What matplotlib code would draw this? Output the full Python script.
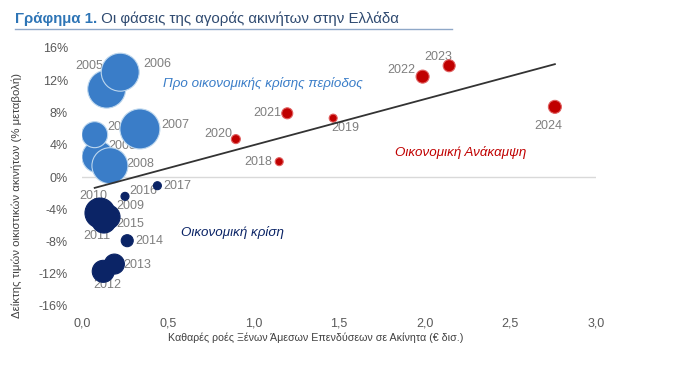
import numpy as np
import matplotlib
matplotlib.use("Agg")
import matplotlib.pyplot as plt
from matplotlib.lines import Line2D
from matplotlib.ticker import FuncFormatter

plt.rcParams['font.family'] = ['Liberation Sans', 'DejaVu Sans']

# ---------------- data ----------------
years_pre = ["2003", "2004", "2005", "2006", "2007", "2008"]
fdi_pre = [0.093, 0.074, 0.144, 0.223, 0.338, 0.163]
price_pre = [2.5, 5.25, 10.9, 13.0, 5.96, 1.4]
size_pre = [16, 13, 19, 19, 20, 18]

years_crisis = ["2009", "2010", "2011", "2015", "2012", "2013", "2014", "2016", "2017"]
fdi_crisis = [0.105, 0.105, 0.128, 0.152, 0.124, 0.189, 0.264, 0.251, 0.44]
price_crisis = [-3.72, -4.47, -5.46, -4.96, -11.7, -10.8, -7.9, -2.4, -1.08]
size_crisis = [8, 15, 12, 12, 11, 10, 6, 4, 4]

years_rec = ["2018", "2019", "2020", "2021", "2022", "2023", "2024"]
fdi_rec = [1.151, 1.466, 0.898, 1.198, 1.988, 2.143, 2.76]
price_rec = [1.9, 7.3, 4.7, 7.9, 12.45, 13.8, 8.7]
size_rec = [4, 4, 4.5, 5.5, 6.5, 6, 6.5]

x_ticks = [0.0, 0.5, 1.0, 1.5, 2.0, 2.5, 3.0]
y_ticks = [-16, -12, -8, -4, 0, 4, 8, 12, 16]

title_bold = "Γράφημα 1."
title_rest = " Οι φάσεις της αγοράς ακινήτων στην Ελλάδα"
x_label = "Καθαρές ροές Ξένων Άμεσων Επενδύσεων σε Ακίνητα (€ δισ.)"
y_label = "Δείκτης τιμών οικιστικών ακινήτων (% μεταβολή)"
txt_pre = "Προ οικονομικής κρίσης περίοδος"
txt_crisis = "Οικονομική κρίση"
txt_rec = "Οικονομική Ανάκαμψη"

# ---------------- style ----------------
BLUE = "#3A7DC8"
NAVY = "#0B2466"
RED = "#C00000"
GRAY = "#7F7F7F"

label_off = {
    "2003": (24, 11), "2004": (27, 8), "2005": (-17, 23), "2006": (37, 8),
    "2007": (35, 4), "2008": (30, 2), "2009": (30, 1), "2010": (-7, 17),
    "2011": (-7, -15), "2012": (4, -14), "2013": (23, -1), "2014": (22, 0),
    "2015": (22, -7), "2016": (18, 5), "2017": (20, 0), "2018": (-21, 0),
    "2019": (12, -10), "2020": (-18, 5), "2021": (-20, 0), "2022": (-21, 7),
    "2023": (-11, 9), "2024": (-7, -19),
}

W, H, DPI = 700, 365, 100
fig = plt.figure(figsize=(W / DPI, H / DPI), dpi=DPI)
ax = fig.add_axes([82 / W, 1 - 306 / H, (596 - 82) / W, (306 - 48) / H])


def px2s(r):
    # radius in px -> scatter size (points^2)
    d_pt = 2 * r * 72 / DPI
    return d_pt ** 2


def draw_group(xs, ys, sizes, years, color, edge):
    for x, y, s, yr in zip(xs, ys, sizes, years):
        ax.annotate(yr, (x, y), xytext=label_off[yr], textcoords="offset pixels",
                    ha="center", va="center", fontsize=9, color=GRAY, zorder=2)
    ax.scatter(xs, ys, s=[px2s(r) for r in sizes], color=color,
               edgecolors=edge, linewidths=0.8, zorder=3)


draw_group(fdi_pre, price_pre, size_pre, years_pre, BLUE, "#BDD7EE")
draw_group(fdi_crisis, price_crisis, size_crisis, years_crisis, NAVY, NAVY)
draw_group(fdi_rec, price_rec, size_rec, years_rec, RED, "#E06060")

# linear trend line over all points
all_x = np.array(fdi_pre + fdi_crisis + fdi_rec)
all_y = np.array(price_pre + price_crisis + price_rec)
k, b = np.polyfit(all_x, all_y, 1)
tx = np.array([all_x.min(), all_x.max()])
ax.plot(tx, k * tx + b, color="#333333", lw=1.3, zorder=4)

# axes
ax.set_xlim(0, 3.0)
ax.set_ylim(-16, 16)
ax.set_xticks(x_ticks)
ax.set_yticks(y_ticks)
ax.xaxis.set_major_formatter(FuncFormatter(lambda v, p: f"{v:.1f}".replace(".", ",")))
ax.yaxis.set_major_formatter(FuncFormatter(lambda v, p: f"{v:.0f}%".replace("−", "-")))
ax.tick_params(length=0, labelsize=9, labelcolor="#595959")
ax.tick_params(axis="x", pad=8)
ax.tick_params(axis="y", pad=10)
for sp in ax.spines.values():
    sp.set_visible(False)
ax.axhline(0, color="#D9D9D9", lw=1.0, zorder=1)

ax.set_xlabel(x_label, fontsize=7.7, color="#404040")
ax.set_ylabel(y_label, fontsize=8.2, color="#404040")
ax.xaxis.set_label_coords((316 - 82) / 514, (306 - 338) / 258)
ax.yaxis.set_label_coords((17 - 82) / 514, (306 - 195) / 258)
ax.xaxis.label.set_va("center")
ax.yaxis.label.set_va("center")

# in-plot annotations (pixel positions from top-left)
for txt, (px, py), col in ((txt_pre, (263, 83), BLUE),
                           (txt_crisis, (232, 232), NAVY),
                           (txt_rec, (461, 153), RED)):
    fig.text(px / W, 1 - py / H, txt, fontsize=9.6, style="italic", color=col,
             ha="center", va="center")

# title
t1 = fig.text(15 / W, 1 - 19 / H, title_bold, fontsize=10.8, fontweight="bold",
              color="#2E75B6", ha="left", va="center")
fig.canvas.draw()
bb = t1.get_window_extent()
fig.text(bb.x1 / W, 1 - 19 / H, title_rest, fontsize=10.8, color="#2F4A70",
         ha="left", va="center")
fig.add_artist(Line2D([15 / W, 452 / W], [1 - 29 / H, 1 - 29 / H],
                      color="#8FA8C8", lw=1.0))

fig.savefig("out.png", dpi=DPI)
